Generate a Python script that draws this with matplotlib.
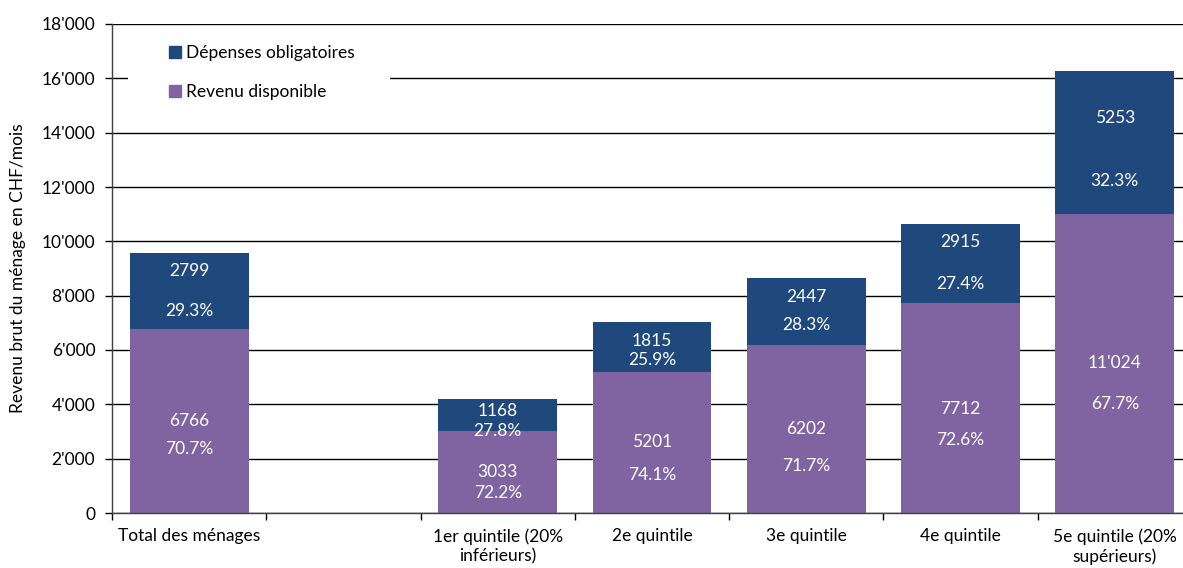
import numpy as np
import matplotlib
matplotlib.use("Agg")
import matplotlib.pyplot as plt
from matplotlib.patches import Patch, Rectangle
from matplotlib.ticker import FuncFormatter, MultipleLocator

plt.rcParams["font.family"] = ["Lato", "DejaVu Sans"]

# data
categories = ["Total des ménages", "", "1er quintile (20%\ninférieurs)", "2e quintile",
              "3e quintile", "4e quintile", "5e quintile (20%\nsupérieurs)"]
revenu = [6766, np.nan, 3033, 5201, 6202, 7712, 11024]
depenses = [2799, np.nan, 1168, 1815, 2447, 2915, 5253]
revenu_pct = ["70.7%", "", "72.2%", "74.1%", "71.7%", "72.6%", "67.7%"]
depenses_pct = ["29.3%", "", "27.8%", "25.9%", "28.3%", "27.4%", "32.3%"]

# label placement (pixel offsets from segment centre, positive = down)
rev_num_off = [0, 0, 0, 0, 0, 1, 0]
rev_pct_off = [28, 0, 21, 33, 37, 32, 41]
dep_num_off = [-20, 0, -4, -6, -14, -22, -24]
dep_pct_off = [20, 0, 16, 13, 14, 20, 39]

NAVY = "#1F487C"
PURPLE = "#8064A2"
FS = 12.5
W, H = 1183, 568

fig = plt.figure(figsize=(W / 100, H / 100), dpi=100)
ax = fig.add_axes([112 / W, (H - 513) / H, (1192 - 112) / W, 489 / H])

x = np.arange(len(categories))
ax.bar(x, revenu, width=0.77, color=PURPLE, zorder=2)
ax.bar(x, depenses, width=0.77, bottom=revenu, color=NAVY, zorder=2)


def fmt_num(v):
    v = int(v)
    return f"{v:,}".replace(",", "'") if v >= 10000 else str(v)


lab_kw = dict(ha="center", va="center", color="white", fontsize=FS,
              textcoords="offset pixels", zorder=3)
for i in x:
    if np.isnan(revenu[i]):
        continue
    c_rev = revenu[i] / 2
    c_dep = revenu[i] + depenses[i] / 2
    ax.annotate(fmt_num(revenu[i]), (i, c_rev), xytext=(0, -rev_num_off[i]), **lab_kw)
    ax.annotate(revenu_pct[i], (i, c_rev), xytext=(0, -rev_pct_off[i]), **lab_kw)
    ax.annotate(fmt_num(depenses[i]), (i, c_dep), xytext=(0, -dep_num_off[i]), **lab_kw)
    ax.annotate(depenses_pct[i], (i, c_dep), xytext=(0, -dep_pct_off[i]), **lab_kw)

ax.set_xlim(-0.5, len(categories) - 0.5)
ax.set_ylim(0, 18000)
ax.yaxis.set_major_locator(MultipleLocator(2000))
ax.yaxis.set_major_formatter(FuncFormatter(lambda v, p: f"{int(v):,}".replace(",", "'")))
ax.grid(axis="y", color="black", linewidth=1, zorder=0.5)
ax.set_axisbelow(True)

ax.set_xticks(x)
ax.set_xticklabels(categories, fontsize=FS, linespacing=1.25)
ax.set_xticks(np.arange(len(categories) + 1) - 0.5, minor=True)
ax.tick_params(axis="x", which="major", length=0, pad=11)
ax.tick_params(axis="x", which="minor", length=5, width=1, direction="out")
ax.tick_params(axis="y", length=5, width=1, labelsize=FS, pad=7)

for s in ["top", "right"]:
    ax.spines[s].set_visible(False)
for s in ["left", "bottom"]:
    ax.spines[s].set_color("#404040")
    ax.spines[s].set_linewidth(1)

ax.set_ylabel("Revenu brut du ménage en CHF/mois", fontsize=FS)
ax.yaxis.set_label_coords(-(112 - 26) / 1080, 0.5)

# white box behind the legend, hiding the gridlines
ax.add_patch(Rectangle(((128 - 112) / 1080, (513 - 125) / 489), (390 - 128) / 1080, 95 / 489,
                       transform=ax.transAxes, facecolor="white", edgecolor="none", zorder=1.5))
handles = [Patch(color=NAVY, label="Dépenses obligatoires"),
           Patch(color=PURPLE, label="Revenu disponible")]
ax.legend(handles=handles, loc="upper left", bbox_to_anchor=((169 - 112) / 1080, (513 - 45) / 489),
          frameon=False, fontsize=FS, handlelength=0.7, handleheight=0.7,
          handletextpad=0.3, labelspacing=1.35, borderpad=0, borderaxespad=0)

fig.savefig("out.png", dpi=100)
